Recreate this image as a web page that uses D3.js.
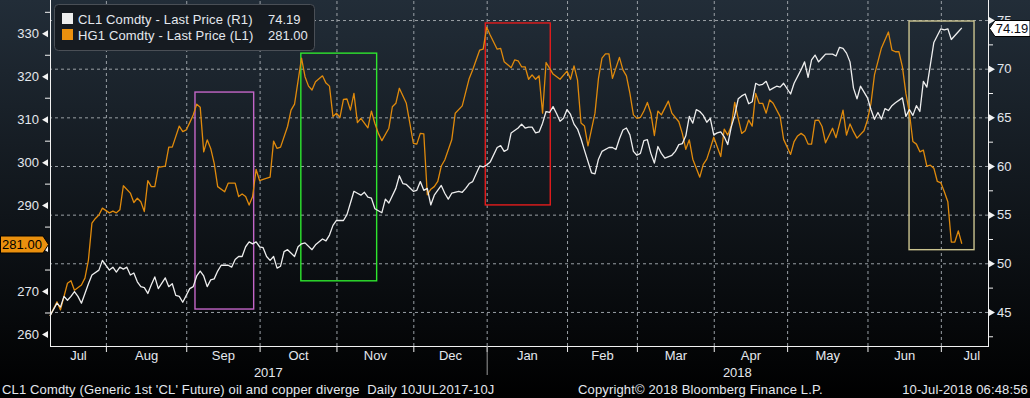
<!DOCTYPE html>
<html>
<head>
<meta charset="utf-8">
<script src="https://cdn.jsdelivr.net/npm/d3@7"></script>
<style>
  body { margin: 0; background: #000; }
  svg { display: block; font-family: "Liberation Sans", Arial, sans-serif; }
  .lbl { fill: #e4e8ee; font-size: 13px; }
  .foot { fill: #e4e8ee; font-size: 13px; letter-spacing: 0.15px; white-space: pre; }
  .grid line { stroke: #9aa0a6; stroke-dasharray: 3,3; }
  .grid path { display: none; }
</style>
</head>
<body>
<svg width="1030" height="398"></svg>
<script>
const w = 1030, h = 398;
const plotL = 50, plotR = 988, plotT = 0, plotB = 346;

// trading days are counted from 10 Jul 2017
const start = new Date(2017, 6, 10);
const monthNames = ["Jul","Aug","Sep","Oct","Nov","Dec","Jan","Feb","Mar","Apr","May","Jun","Jul"];
const monthFirst = [[2017,7],[2017,8],[2017,9],[2017,10],[2017,11],[2017,12],
                    [2018,1],[2018,2],[2018,3],[2018,4],[2018,5],[2018,6],[2018,7]];
const years = ["2017", "2018"];

const hgTicks = [260, 270, 280, 290, 300, 310, 320, 330];
const clTicks = [45, 50, 55, 60, 65, 70, 75];

// HG1 Comdty copper (left axis)
const hgDay = [0,2,3,5,6,7,9,10,11,12,13,14,15,17,18,19,20,21,23,24,25,26,27,28,29,30,31,33,34,35,37,38,39,40,41,42,43,44,45,46,47,48,50,51,53,54,55,56,57,58,59,60,61,63,64,65,66,68,69,70,72,73,74,75,76,78,79,80,81,82,83,84,85,86,87,88,89,91,92,93,94,95,97,98,99,100,102,103,104,105,106,107,108,109,110,111,112,113,115,116,118,120,121,123,124,125,126,128,129,130,132,133,134,135,136,137,138,139,140,141,142,143,144,146,148,149,150,151,152,153,154,156,157,158,159,160,161,163,164,165,166,167,168,169,170,171,172,173,174,175,177,178,180,181,182,183,184,186,187,188,189,190,192,193,194,195,196,197,198,199,200,201,202,203,204,205,206,207,209,210,212,213,214,215,216,217,218,219,220,221,222,224,225,227,228,229,230,231,233,234,235,236,238,240,241,242,243,244,245,246,247,248,249,250,251,252,253,254,255,256,257,258,259,260,261];
const hgPx  = [264.2,267.5,265.6,271.8,272.4,270.2,271.4,273.0,277.2,285.8,286.9,287.7,289.3,288.2,288.6,288.2,288.9,294.5,292.8,290.6,291.6,290.8,288.5,295.7,294.3,294.3,298.8,299.1,303.5,303.5,308.4,307.1,307.5,309.2,311.0,313.5,312.8,302.4,305.2,303.2,299.7,294.3,293.1,295.1,295.1,292.0,292.6,292.0,290.0,292.0,298.3,295.7,296.0,296.5,304.9,303.2,303.5,308.3,312.1,313.5,324.2,319.9,317.7,316.8,318.7,320.1,318.4,317.7,310.6,311.4,310.4,314.6,314.7,312.1,316.0,309.2,310.2,308.0,311.9,309.0,306.7,305.0,307.9,312.9,313.7,317.2,313.7,309.1,304.4,304.2,306.7,306.6,292.4,293.7,294.3,295.5,299.1,300.5,305.2,311.4,313.1,319.5,321.5,326.1,326.3,331.4,329.6,326.3,326.5,323.4,322.0,323.8,323.6,322.2,322.2,319.3,320.3,319.3,320.1,311.4,323.2,321.9,320.5,319.3,321.2,319.3,322.4,319.1,309.1,308.4,303.8,311.4,319.5,324.2,325.2,325.2,319.5,324.4,321.5,320.1,316.0,311.0,310.2,310.4,311.9,313.9,311.4,306.2,311.9,311.0,314.2,311.4,309.4,306.7,303.0,305.2,300.7,296.5,299.5,300.7,303.2,305.8,301.3,307.7,306.3,308.4,313.9,310.2,306.7,307.3,309.8,308.4,316.0,313.7,313.7,311.4,314.5,313.7,310.6,305.3,301.8,304.8,306.1,306.7,306.1,304.2,304.2,309.7,309.8,308.3,304.5,307.9,305.7,312.1,306.3,308.9,307.1,305.6,307.3,309.8,313.7,320.3,326.6,330.3,326.1,325.7,325.7,322.2,316.0,311.5,304.8,304.2,302.4,302.8,299.1,299.3,298.6,295.5,295.2,293.1,290.8,281.4,281.4,284.0,281.0];

// CL1 Comdty crude oil (right axis)
const clDay = [0,2,3,4,5,6,7,8,9,10,11,12,14,15,17,18,19,20,21,22,23,24,25,26,27,28,29,30,31,33,34,35,36,37,38,40,41,42,43,44,45,46,47,48,49,51,52,53,54,55,56,57,58,59,60,61,62,63,64,65,66,67,68,70,71,72,73,75,76,78,79,80,81,82,84,85,86,87,88,89,90,91,92,93,95,96,97,99,100,101,102,104,105,106,107,108,109,110,112,113,114,115,117,118,119,120,121,123,124,125,126,128,129,130,131,132,134,135,136,137,138,139,140,141,142,143,144,145,146,147,148,149,150,151,152,153,155,156,157,158,160,161,162,163,164,165,166,167,168,169,170,171,172,173,174,175,176,178,179,180,181,182,183,184,185,186,187,188,189,190,191,192,193,194,195,196,197,198,199,200,201,202,203,204,205,206,207,208,209,210,212,213,215,216,217,218,219,220,221,222,224,225,226,227,228,229,230,231,232,234,235,236,237,238,239,240,241,242,244,245,246,247,248,249,250,251,252,253,255,256,257,258,260,261];
const clPx  = [44.6,45.9,45.5,46.6,46.2,46.6,47.1,46.6,45.9,46.9,47.9,48.8,49.3,50.3,49.3,49.6,49.1,49.6,49.4,49.6,48.8,49.0,48.1,47.6,47.5,46.9,47.8,48.6,47.4,48.5,47.6,47.9,46.7,46.6,46.0,47.4,47.6,48.7,49.2,48.7,47.6,48.3,48.4,49.2,49.8,49.8,49.6,50.4,50.7,50.7,51.7,52.2,52.0,52.2,51.7,51.6,50.7,50.3,50.7,49.5,49.7,51.2,51.4,50.7,51.7,52.0,52.1,51.4,51.9,52.5,52.3,52.9,53.9,54.4,54.4,55.0,56.2,57.4,57.2,57.0,57.3,56.8,56.7,55.6,55.2,56.6,56.2,57.7,59.0,58.2,58.1,57.4,57.5,58.4,57.5,57.7,56.0,57.0,58.0,57.2,56.6,57.2,57.4,57.3,57.7,58.2,58.4,60.0,59.9,60.1,60.4,61.9,62.1,61.5,61.7,63.4,63.9,64.3,63.9,64.0,64.0,63.4,63.5,64.4,65.6,65.5,66.1,65.4,64.6,64.9,65.8,65.3,64.3,63.8,62.8,61.6,59.3,59.2,60.7,61.5,61.9,61.9,61.7,62.8,63.7,63.9,63.2,61.5,61.1,61.3,62.6,62.7,61.3,60.3,62.0,61.3,60.8,61.1,61.5,62.2,62.3,63.1,65.1,64.4,65.8,65.6,65.2,64.5,64.9,63.2,63.4,63.5,63.0,62.2,64.0,65.2,66.9,67.2,67.4,66.4,66.6,68.5,68.3,68.4,68.7,67.8,68.0,68.2,68.1,68.5,67.4,68.5,69.9,70.7,69.1,70.9,71.4,70.7,71.1,71.5,71.5,71.3,72.2,72.1,71.6,70.7,68.0,66.9,68.2,67.0,65.8,64.8,65.5,64.8,65.9,65.7,66.2,66.5,67.0,65.1,65.8,65.2,66.2,65.6,68.7,68.1,70.4,72.7,74.1,74.0,74.1,73.0,73.8,74.19];

// highlighted periods (trading days, CL1 price range)
const boxDays = [[41.5, 58.3], [71.8, 93.5], [124.6, 143.2], [245.9, 264.5]];
const boxCl   = [[45.3, 67.6], [48.2, 71.6], [56.0, 74.7], [51.4, 74.9]];
const boxColor = ["#c466c8", "#2ee62e", "#e41c1c", "#cbc490"];

const hgLast = 281.00, clLast = 74.19;
const orange = "#ea900e", lineOrange = "#e08a0c", white = "#eeeeee";

function tradingIndex(date) {
    let n = 0;
    for (let d = new Date(start); d < date; d.setDate(d.getDate() + 1)) {
        const wd = d.getDay();
        if (wd != 0 && wd != 6) n++;
    }
    return n;
}

const monthIdx = monthFirst.map((m, i) => i == 0 ? 0 : tradingIndex(new Date(m[0], m[1]-1, 1)));

const x  = d3.scaleLinear().domain([0, 268.5]).range([plotL, plotR]);
const yL = d3.scaleLinear().domain([257.2, 337.75]).range([plotB, plotT]);
const yR = d3.scaleLinear().domain([41.5, 77.06]).range([plotB, plotT]);

const svg = d3.select("svg");

const defs = svg.append("defs");
const grad = defs.append("linearGradient").attr("id", "bg").attr("x1", 0).attr("y1", 0).attr("x2", 0).attr("y2", 1);
grad.append("stop").attr("offset", "0%").attr("stop-color", "#222d38");
grad.append("stop").attr("offset", "100%").attr("stop-color", "#000000");
svg.append("rect").attr("width", w).attr("height", h).attr("fill", "url(#bg)");

drawGrid();
drawBoxes();
drawLines();
drawAxes();
drawLegend();
drawTags();
drawFooter();

function drawGrid() {
    svg.append("g").attr("class", "grid")
        .attr("transform", `translate(${[plotR, 0]})`)
        .call(d3.axisLeft(yR).tickValues(clTicks).tickSize(plotR - plotL).tickFormat(""));
    svg.append("g").attr("class", "grid")
        .attr("transform", `translate(${[0, plotB]})`)
        .call(d3.axisBottom(x).tickValues(monthIdx.slice(1)).tickSize(-(plotB - plotT)).tickFormat(""));
}

function drawBoxes() {
    svg.append("g").selectAll("rect")
        .data(boxDays)
        .join("rect")
        .attr("x", d => x(d[0]))
        .attr("width", d => x(d[1]) - x(d[0]))
        .attr("y", (d, i) => yR(boxCl[i][1]))
        .attr("height", (d, i) => yR(boxCl[i][0]) - yR(boxCl[i][1]))
        .attr("fill", "none")
        .attr("stroke", (d, i) => boxColor[i])
        .attr("stroke-width", 1.4);
}

function drawLines() {
    const hgLine = d3.line().x(d => x(d[0])).y(d => yL(d[1]));
    const clLine = d3.line().x(d => x(d[0])).y(d => yR(d[1]));
    svg.append("path").datum(d3.zip(hgDay, hgPx))
        .attr("d", hgLine).attr("fill", "none")
        .attr("stroke", lineOrange).attr("stroke-width", 1.3).attr("stroke-linejoin", "round");
    svg.append("path").datum(d3.zip(clDay, clPx))
        .attr("d", clLine).attr("fill", "none")
        .attr("stroke", white).attr("stroke-width", 1.3).attr("stroke-linejoin", "round");
}

function drawAxes() {
    // frame
    const frame = svg.append("g").attr("stroke", "#f2f2f2").attr("stroke-width", 1);
    frame.append("line").attr("x1", plotL + .5).attr("x2", plotL + .5).attr("y1", plotT).attr("y2", plotB + .5);
    frame.append("line").attr("x1", plotR + .5).attr("x2", plotR + .5).attr("y1", plotT).attr("y2", plotB + .5);
    frame.append("line").attr("x1", plotL).attr("x2", plotR + 1).attr("y1", plotB + .5).attr("y2", plotB + .5);

    // left axis (copper)
    const gl = svg.append("g").attr("transform", `translate(${[plotL, 0]})`)
        .call(d3.axisLeft(yL).tickValues(hgTicks).tickSize(0).tickPadding(11));
    gl.select(".domain").remove();
    gl.selectAll("text").attr("class", "lbl").attr("fill", null).style("font-size", "13px");
    gl.selectAll(".tick").append("path").attr("d", "M-8,0L-2,-3.5L-2,3.5Z").attr("fill", "#f2f2f2");
    const glm = svg.append("g").attr("transform", `translate(${[plotL, 0]})`)
        .call(d3.axisLeft(yL).tickValues(hgTicks.map(v => v + 5)).tickSize(5).tickFormat(""));
    glm.select(".domain").remove();
    glm.selectAll("line").attr("stroke", "#f2f2f2");

    // right axis (oil)
    const gr = svg.append("g").attr("transform", `translate(${[plotR, 0]})`)
        .call(d3.axisRight(yR).tickValues(clTicks).tickSize(0).tickPadding(9));
    gr.select(".domain").remove();
    gr.selectAll("text").attr("class", "lbl").attr("fill", null).style("font-size", "13px");
    gr.selectAll(".tick").append("path").attr("d", "M1,-3.5L7,0L1,3.5Z").attr("fill", "#f2f2f2");
    const grm = svg.append("g").attr("transform", `translate(${[plotR, 0]})`)
        .call(d3.axisRight(yR).tickValues(clTicks.map(v => v - 2.5)).tickSize(5).tickFormat(""));
    grm.select(".domain").remove();
    grm.selectAll("line").attr("stroke", "#f2f2f2");

    // months
    const gm = svg.append("g").attr("transform", `translate(${[0, plotB]})`)
        .call(d3.axisBottom(x).tickValues(monthIdx.slice(1)).tickSize(6).tickFormat(""));
    gm.select(".domain").remove();
    gm.selectAll("line").attr("stroke", "#f2f2f2");

    const ends = monthIdx.slice(1).concat([x.domain()[1] + 4]);
    const mids = monthIdx.map((m, i) => (m + ends[i]) / 2);
    const gt = svg.append("g").attr("transform", `translate(${[0, plotB]})`)
        .call(d3.axisBottom(x).tickValues(mids).tickSize(0).tickPadding(5)
            .tickFormat((d, i) => monthNames[i]));
    gt.select(".domain").remove();
    gt.selectAll("text").attr("class", "lbl").attr("fill", null).style("font-size", "13px");

    const janIdx = monthIdx[6];
    svg.append("line").attr("x1", x(janIdx) + .5).attr("x2", x(janIdx) + .5)
        .attr("y1", plotB).attr("y2", 375).attr("stroke", "#9a9a9a");
    const yearMids = [(0 + janIdx) / 2, (janIdx + x.domain()[1]) / 2];
    svg.append("g").selectAll("text").data(years).join("text")
        .attr("class", "lbl")
        .attr("x", (d, i) => x(yearMids[i]))
        .attr("y", 377)
        .attr("text-anchor", "middle")
        .text(d => d);
}

function drawLegend() {
    const lg = svg.append("g").attr("transform", `translate(${[54.5, 4.5]})`);
    lg.append("rect").attr("width", 260).attr("height", 46).attr("rx", 4)
        .attr("fill", "#161b21").attr("stroke", "#4a4f56");
    const items = [["CL1 Comdty - Last Price (R1)", clLast.toFixed(2), white],
                   ["HG1 Comdty - Last Price (L1)", hgLast.toFixed(2), orange]];
    lg.selectAll("g.item").data(items).join("g").attr("class", "item")
        .each(function(d, i) {
            const g = d3.select(this);
            g.append("rect").attr("x", 7.5).attr("y", 8.5 + i * 16).attr("width", 11).attr("height", 11).attr("fill", d[2]);
            g.append("text").attr("class", "lbl").attr("x", 23.5).attr("y", 19.5 + i * 16)
                .style("letter-spacing", "0.15px").text(d[0]);
            g.append("text").attr("class", "lbl").attr("x", 213.5).attr("y", 19.5 + i * 16).text(d[1]);
        });
}

function drawTags() {
    const yh = Math.round(yL(hgLast)) + .5;
    svg.append("path")
        .attr("d", `M0.5,${yh-8.5}L43,${yh-8.5}L48.5,${yh}L43,${yh+8.5}L0.5,${yh+8.5}Z`)
        .attr("fill", orange).attr("stroke", "#000");
    svg.append("text").attr("x", 22).attr("y", yh + 4.5).attr("text-anchor", "middle")
        .style("font-size", "13px").attr("fill", "#000").text(hgLast.toFixed(2));

    const yc = Math.round(yR(clLast)) + .5;
    svg.append("path")
        .attr("d", `M989.5,${yc}L995,${yc-8}L1030,${yc-8}L1030,${yc+8}L995,${yc+8}Z`)
        .attr("fill", "#ffffff").attr("stroke", "#000");
    svg.append("text").attr("x", 1012).attr("y", yc + 4.5).attr("text-anchor", "middle")
        .style("font-size", "13px").attr("fill", "#0a0a14").text(clLast.toFixed(2));
}

function drawFooter() {
    svg.append("text").attr("class", "foot").attr("x", 2).attr("y", 394)
        .text("CL1 Comdty (Generic 1st 'CL' Future) oil and copper diverge  Daily 10JUL2017-10J");
    svg.append("text").attr("class", "foot").attr("x", 578).attr("y", 394)
        .text("Copyright\u00a9 2018 Bloomberg Finance L.P.");
    svg.append("text").attr("class", "foot").attr("x", 1028).attr("y", 394).attr("text-anchor", "end")
        .text("10-Jul-2018 06:48:56");
}
</script>
</body>
</html>
